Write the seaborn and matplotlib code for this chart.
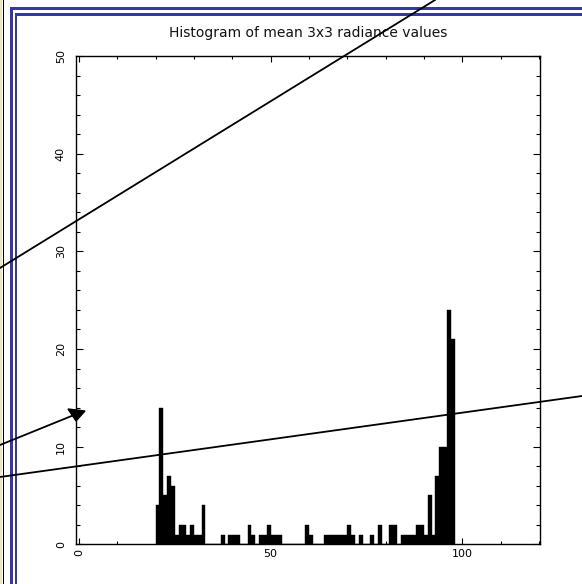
import numpy as np
import pandas as pd
import seaborn as sns
import matplotlib.pyplot as plt
from matplotlib.lines import Line2D
from matplotlib.patches import Rectangle, Polygon

# histogram: left edge of each 1-unit bin and its count
bin_left = [20, 21, 22, 23, 24, 25, 26, 27, 28, 29, 30, 31, 32,
            37, 39, 40, 41, 44, 45, 47, 48, 49, 50, 51, 52,
            59, 60, 64, 65, 66, 67, 68, 69, 70, 71, 73, 76, 78,
            81, 82, 84, 85, 86, 87, 88, 89, 90, 91, 92, 93, 94, 95, 96, 97]
counts = [4, 14, 5, 7, 6, 1, 2, 2, 1, 2, 1, 1, 4,
          1, 1, 1, 1, 2, 1, 1, 1, 2, 1, 1, 1,
          2, 1, 1, 1, 1, 1, 1, 1, 2, 1, 1, 1, 2,
          2, 2, 1, 1, 1, 1, 2, 2, 1, 5, 1, 7, 10, 10, 24, 21]

title = 'Histogram of mean 3x3 radiance values'
x_labels = [0, 50, 100]
y_labels = [0, 10, 20, 30, 40, 50]

W, H = 582, 584
fig = plt.figure(figsize=(W / 100, H / 100), dpi=100)
fig.patch.set_facecolor('white')


def fx(px):
    return px / W


def fy(py):
    return 1 - py / H


def box(x0, y0, x1, y1, color):
    fig.add_artist(Rectangle((fx(x0), fy(y1)), (x1 - x0) / W, (y1 - y0) / H,
                             transform=fig.transFigure, color=color, lw=0, zorder=1))


# window frame on the left/top
box(0, 0, 2, H, '#efe6c0')
box(2.5, 0, 3.6, H, 'black')
box(10, 7, W, 10, '#3636a8')
box(10, 7, 13, H, '#3636a8')
box(14.5, 12.5, W, 15.5, '#3636a8')
box(14.5, 12.5, 17, H, '#3636a8')

ax = fig.add_axes([fx(75.5), fy(544.3), (540 - 75.5) / W, (544.3 - 56) / H])
ax.set_facecolor('none')

df = pd.DataFrame({'value': np.array(bin_left) + 0.5, 'count': counts})
sns.histplot(data=df, x='value', weights='count', binwidth=1, binrange=(20, 98),
             color='black', alpha=1, edgecolor='black', linewidth=0.3, ax=ax)

ax.set_xlim(-0.9, 120.3)
ax.set_ylim(0, 50)
ax.set_xlabel('')
ax.set_ylabel('')
ax.set_xticks(x_labels)
ax.set_xticks(np.arange(0, 121, 10), minor=True)
ax.set_yticks(y_labels)
ax.set_yticks(np.arange(0, 51, 2), minor=True)
ax.set_xticklabels([str(v) for v in x_labels])
ax.set_yticklabels([str(v) for v in y_labels])
for s in ax.spines.values():
    s.set_linewidth(1.0)
    s.set_color('black')

ax.tick_params(which='both', direction='in', top=True, right=True, width=0.8,
               labelsize=8, colors='black')
ax.tick_params(axis='x', which='major', length=4.3, pad=3.5)
ax.tick_params(axis='x', which='minor', length=2.2)
ax.tick_params(axis='y', which='major', length=5, pad=7, labelrotation=90)
ax.tick_params(axis='y', which='minor', length=3.2)
for lab in ax.get_yticklabels():
    lab.set_va('center')
ax.get_xticklabels()[0].set_rotation(90)

ax.set_title(title, fontsize=10, pad=14, color='#111111')

# overlaid annotation strokes
for (xa, ya), (xb, yb) in [((0, 268), (435, 0)), ((0, 445), (74, 415)), ((0, 477), (582, 396))]:
    fig.add_artist(Line2D([fx(xa), fx(xb)], [fy(ya), fy(yb)], transform=fig.transFigure,
                          color='black', lw=1.3, zorder=5))
fig.add_artist(Polygon([(fx(68), fy(409)), (fx(85), fy(411)), (fx(76), fy(421))],
                       closed=True, transform=fig.transFigure, color='black', zorder=5))

fig.savefig('out.png', dpi=100)
